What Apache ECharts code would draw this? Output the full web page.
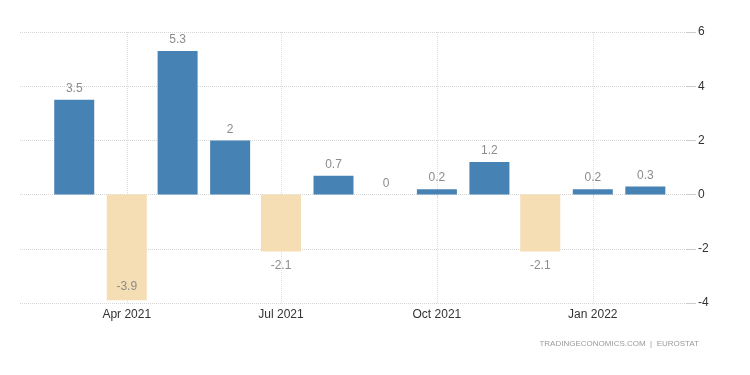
<!DOCTYPE html>
<html>
<head>
<meta charset="utf-8">
<style>
  html, body { margin: 0; padding: 0; background: #fff; }
  #chart { width: 750px; height: 375px; }
</style>
<script src="https://cdn.jsdelivr.net/npm/echarts@6/dist/echarts.min.js"></script>
</head>
<body>
<div id="chart"></div>
<script>
// monthly change, Mar 2021 .. Feb 2022
const months = ['2021-03-01', '2021-04-01', '2021-05-01', '2021-06-01', '2021-07-01', '2021-08-01',
  '2021-09-01', '2021-10-01', '2021-11-01', '2021-12-01', '2022-01-01', '2022-02-01'];
const values = [3.5, -3.9, 5.3, 2, -2.1, 0.7, 0, 0.2, 1.2, -2.1, 0.2, 0.3];
const yTicks = { min: -4, max: 6, step: 2 };
const monthNames = ['Jan', 'Feb', 'Mar', 'Apr', 'May', 'Jun', 'Jul', 'Aug', 'Sep', 'Oct', 'Nov', 'Dec'];

const POS_COLOR = '#4682b4';
const NEG_COLOR = '#f5deb3';
const DAY = 24 * 3600 * 1000;
const GRID = { left: 20, right: 64, top: 32, bottom: 72 };
const BAR_W = 40;

// visible date range of the x axis
const xStart = new Date(2021, 0, 28).getTime();
const xEnd = new Date(2022, 1, 25).getTime();

// echarts widens a time axis by half a bar on each side when bars sit on it,
// so hand it a narrower range that ends up as xStart..xEnd
const gridW = 750 - GRID.left - GRID.right;
const span = xEnd - xStart;
const shrink = (span - span * (1 - BAR_W / gridW)) / 2;

const chart = echarts.init(document.getElementById('chart'));

const seriesData = months.map((m, i) => {
  const v = values[i];
  let pos = v < 0 ? 'bottom' : 'top';
  // no room below the lowest bar, keep its label inside
  if (v < yTicks.min + 0.5) pos = 'insideBottom';
  return {
    value: [m, v],
    itemStyle: { color: v < 0 ? NEG_COLOR : POS_COLOR },
    label: { position: pos, distance: v < 0 ? 8 : 5 }
  };
});

chart.setOption({
  animation: false,
  textStyle: { fontFamily: 'Liberation Sans, Arial, sans-serif' },
  title: {
    text: 'TRADINGECONOMICS.COM  |  EUROSTAT',
    right: 46,
    bottom: 22,
    textStyle: { fontSize: 8, fontWeight: 'normal', color: '#9a9a9a' }
  },
  grid: GRID,
  xAxis: {
    type: 'time',
    min: xStart + shrink,
    max: xEnd - shrink,
    minInterval: 92 * DAY,
    maxInterval: 92 * DAY,
    axisLine: { show: false },
    axisTick: { show: true, length: 3, lineStyle: { color: '#ddd' } },
    splitLine: {
      show: true,
      showMinLine: false,
      showMaxLine: false,
      lineStyle: { color: '#ddd', type: 'dotted' }
    },
    axisLabel: {
      color: '#333',
      fontSize: 12,
      margin: 6,
      formatter: (v) => {
        const d = new Date(v);
        return monthNames[d.getMonth()] + ' ' + d.getFullYear();
      }
    }
  },
  yAxis: {
    type: 'value',
    position: 'right',
    min: yTicks.min,
    max: yTicks.max,
    interval: yTicks.step,
    axisLine: { show: false },
    axisTick: { show: true, length: 10, lineStyle: { color: '#ccc' } },
    splitLine: { lineStyle: { color: '#d6d6d6', type: 'dotted' } },
    axisLabel: { color: '#333', fontSize: 12, margin: 12 }
  },
  series: [{
    type: 'bar',
    barWidth: BAR_W,
    data: seriesData,
    label: {
      show: true,
      color: '#8c8c8c',
      fontSize: 12,
      formatter: (p) => String(p.value[1])
    }
  }]
});
</script>
</body>
</html>
